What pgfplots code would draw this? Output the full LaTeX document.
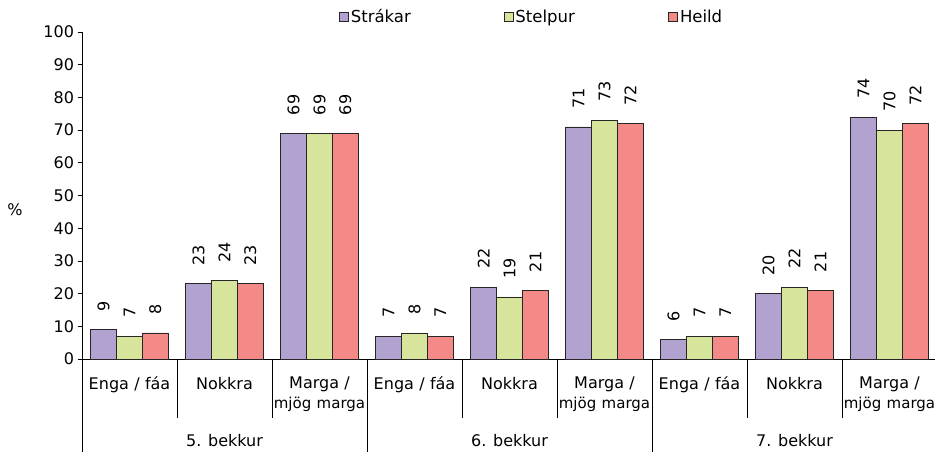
\documentclass[border=0pt]{standalone}
\usepackage{pgfplots}
\pgfplotsset{compat=1.18}
\usepackage{fontspec}
\setmainfont{DejaVu Sans}
\definecolor{cA}{RGB}{177,162,208}
\definecolor{cB}{RGB}{214,228,156}
\definecolor{cC}{RGB}{244,138,136}
\newcommand{\mm}{{\fontsize{15}{20}\selectfont mjög marga}}
\pgfplotsset{sqlegend/.style={legend image code/.code={\draw[##1,line width=0.6pt] (0pt,-4.5pt) rectangle (9pt,4.5pt);}}}
\begin{document}
\begin{tikzpicture}[x=1pt,y=1pt]
\path[use as bounding box] (0,0) rectangle (935,452);
\begin{axis}[
  at={(82pt,93pt)}, anchor=south west,
  scale only axis, width=855pt, height=327pt,
  xmin=-0.5, xmax=8.5, ymin=0, ymax=100,
  axis lines*=left, clip=false,
  ybar=0pt, bar width=0.272,
  ytick={0,10,...,100},
  tick align=outside, major tick length=4.5pt,
  xtick={0,...,8},
  major x tick style={draw=none},
  xticklabels={{Enga / fáa},{Nokkra},{Marga /\\\mm},{Enga / fáa},{Nokkra},{Marga /\\\mm},{Enga / fáa},{Nokkra},{Marga /\\\mm}},
  xticklabel style={text width=120pt, align=center, anchor=north, yshift=-10pt, font=\fontsize{16}{20}\selectfont},
  yticklabel style={font=\fontsize{16}{20}\selectfont},
  /pgf/number format/assume math mode=true,
  axis line style={black, line width=0.7pt},
  tick style={black, line width=0.7pt},
  nodes near coords,
  every node near coord/.append style={rotate=90, anchor=west, inner xsep=18pt, inner ysep=0pt, font=\fontsize{16}{16}\selectfont, black},
  legend columns=3,
  legend style={at={(0.3006,1.0459)}, anchor=west, draw=none, fill=none, inner sep=0pt, font=\fontsize{16.5}{18}\selectfont, nodes={inner sep=2pt}},
]
\addplot[fill=cA, draw=black!85, line width=0.6pt, sqlegend] coordinates {(0,9) (1,23) (2,69) (3,7) (4,22) (5,71) (6,6) (7,20) (8,74)};
\addlegendentry{\makebox[151pt][l]{Strákar}}
\addplot[fill=cB, draw=black!85, line width=0.6pt, sqlegend] coordinates {(0,7) (1,24) (2,69) (3,8) (4,19) (5,73) (6,7) (7,22) (8,70)};
\addlegendentry{\makebox[151pt][l]{Stelpur}}
\addplot[fill=cC, draw=black!85, line width=0.6pt, sqlegend] coordinates {(0,8) (1,23) (2,69) (3,7) (4,21) (5,72) (6,7) (7,21) (8,72)};
\addlegendentry{Heild}
\pgfplotsinvokeforeach{0.5,1.5,3.5,4.5,6.5,7.5}{
  \draw[black, line width=0.7pt] (axis cs:#1,0) -- ++(0pt,-59pt);
}
\pgfplotsinvokeforeach{-0.5,2.5,5.5,8.5}{
  \draw[black, line width=0.7pt] (axis cs:#1,0) -- ++(0pt,-93pt);
}
\node[font=\fontsize{16}{18}\selectfont] at ([yshift=-82pt]axis cs:1,0) {5. bekkur};
\node[font=\fontsize{16}{18}\selectfont] at ([yshift=-82pt]axis cs:4,0) {6. bekkur};
\node[font=\fontsize{16}{18}\selectfont] at ([yshift=-82pt]axis cs:7,0) {7. bekkur};
\end{axis}
\node[font=\fontsize{16}{18}\selectfont] at (15,242) {\%};
\end{tikzpicture}
\end{document}
